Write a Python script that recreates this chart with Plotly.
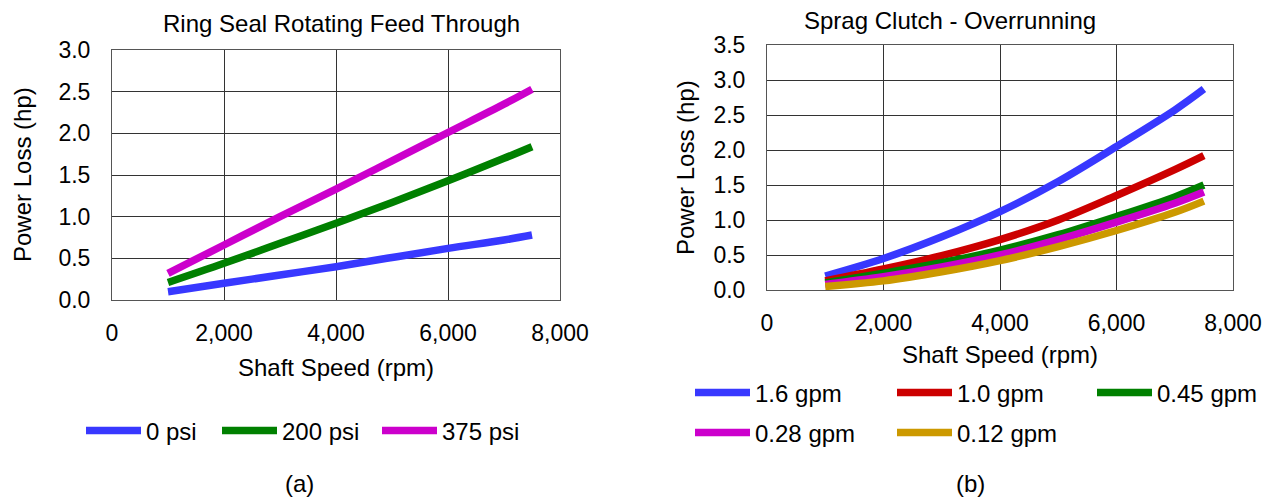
import plotly.graph_objects as go

# ---- data ----
speed_a = [1000, 2000, 3000, 4000, 5000, 6000, 7000, 7500]
psi_labels = ["0 psi", "200 psi", "375 psi"]
psi_0 = [0.10, 0.20, 0.30, 0.40, 0.51, 0.62, 0.72, 0.78]
psi_200 = [0.21, 0.44, 0.68, 0.92, 1.17, 1.43, 1.70, 1.84]
psi_375 = [0.32, 0.66, 1.00, 1.33, 1.67, 2.01, 2.35, 2.53]

speed_b = [1000, 2000, 3000, 4000, 5000, 6000, 7000, 7500]
gpm_labels = ["1.6 gpm", "1.0 gpm", "0.45 gpm", "0.28 gpm", "0.12 gpm"]
gpm_16 = [0.20, 0.45, 0.76, 1.12, 1.55, 2.05, 2.57, 2.87]
gpm_10 = [0.13, 0.30, 0.49, 0.72, 1.00, 1.35, 1.72, 1.92]
gpm_045 = [0.10, 0.24, 0.39, 0.57, 0.79, 1.05, 1.33, 1.50]
gpm_028 = [0.08, 0.19, 0.33, 0.50, 0.72, 0.97, 1.24, 1.40]
gpm_012 = [0.05, 0.13, 0.26, 0.42, 0.62, 0.85, 1.11, 1.27]

x_ticks = [0, 2000, 4000, 6000, 8000]
x_tick_text = ["0", "2,000", "4,000", "6,000", "8,000"]

colors_a = ["#3838FF", "#008000", "#CC00CC"]
colors_b = ["#3838FF", "#CC0000", "#008000", "#CC00CC", "#CC9900"]

# page has an 8px body margin; keep the figure inside the window
OFF = 8
PW, PH = 1270 - OFF, 498 - OFF
FONT = "Liberation Sans, Arial, sans-serif"
FS = 23
TFS = 24
ITEMW = 55


def sx(p):
    return (p - OFF) / PW


def sy(p):
    return 1 - (p - OFF) / PH


# legend text start positions (screen px) and row centre
leg_a_text = [147, 283, 443]
leg_a_y = 431
leg_b_text = [756, 958, 1158, 756, 958]
leg_b_y = [393, 393, 393, 433, 433]

fig = go.Figure()
legends = {}
n = 0


def leg_name(i):
    return "legend" if i == 0 else f"legend{i + 1}"


def add_legend(i, text_x, y):
    legends[leg_name(i)] = dict(
        orientation="h", x=sx(text_x - (ITEMW + 11)), y=sy(y),
        xanchor="left", yanchor="middle", itemwidth=ITEMW,
        font=dict(size=TFS, color="black", family=FONT),
        bgcolor="rgba(0,0,0,0)", borderwidth=0)


for name, ys, c, tx in zip(psi_labels, [psi_0, psi_200, psi_375], colors_a, leg_a_text):
    fig.add_trace(go.Scatter(x=speed_a, y=ys, name=name, mode="lines",
                             line=dict(color=c, width=7.5, shape="spline"),
                             xaxis="x", yaxis="y", legend=leg_name(n)))
    add_legend(n, tx, leg_a_y)
    n += 1

series_b = [gpm_16, gpm_10, gpm_045, gpm_028, gpm_012]
for name, ys, c, tx, ty in zip(gpm_labels, series_b, colors_b, leg_b_text, leg_b_y):
    fig.add_trace(go.Scatter(x=speed_b, y=ys, name=name, mode="lines",
                             line=dict(color=c, width=7.5, shape="spline"),
                             xaxis="x2", yaxis="y2", legend=leg_name(n)))
    add_legend(n, tx, ty)
    n += 1

grid = "#333333"
ax_common = dict(showgrid=True, gridcolor=grid, gridwidth=1, showline=True,
                 linecolor="#555555", linewidth=1, mirror=True, zeroline=False,
                 ticks="", tickfont=dict(size=FS, color="black", family=FONT),
                 automargin=False, fixedrange=True)

fig.update_layout(
    width=PW, height=PH,
    margin=dict(l=0, r=0, t=0, b=0),
    paper_bgcolor="white", plot_bgcolor="white",
    font=dict(family=FONT, size=FS, color="black"),
    xaxis=dict(domain=[sx(112), sx(560)], range=[0, 8000], tickvals=x_ticks,
               ticktext=x_tick_text, anchor="y", ticklabelstandoff=12, **ax_common),
    yaxis=dict(domain=[sy(300), sy(50)], range=[0, 3.0], dtick=0.5,
               tickformat=".1f", anchor="x", ticklabelstandoff=16, **ax_common),
    xaxis2=dict(domain=[sx(767), sx(1233)], range=[0, 8000], tickvals=x_ticks,
                ticktext=x_tick_text, anchor="y2", ticklabelstandoff=12, **ax_common),
    yaxis2=dict(domain=[sy(290), sy(45)], range=[0, 3.5], dtick=0.5,
                tickformat=".1f", anchor="x2", ticklabelstandoff=16, **ax_common),
    showlegend=True,
    annotations=[
        dict(text="Ring Seal Rotating Feed Through", x=sx(341), y=sy(24)),
        dict(text="Sprag Clutch - Overrunning", x=sx(950), y=sy(21)),
        dict(text="Shaft Speed (rpm)", x=sx(336), y=sy(367)),
        dict(text="Shaft Speed (rpm)", x=sx(1000), y=sy(354)),
        dict(text="Power Loss (hp)", x=sx(22), y=sy(175), textangle=-90),
        dict(text="Power Loss (hp)", x=sx(686), y=sy(168), textangle=-90),
        dict(text="(a)", x=sx(299), y=sy(483)),
        dict(text="(b)", x=sx(970), y=sy(483)),
    ],
    **legends,
)
fig.update_annotations(xref="paper", yref="paper", showarrow=False,
                       xanchor="center", yanchor="middle",
                       font=dict(size=TFS, color="black", family=FONT))

fig.write_html("out.html")
